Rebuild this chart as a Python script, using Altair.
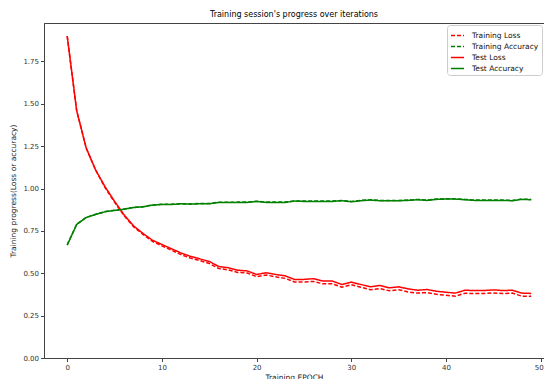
import altair as alt
import pandas as pd

epochs = list(range(50))

test_loss = [1.90, 1.46, 1.24, 1.11, 1.01, 0.925, 0.845, 0.78, 0.735, 0.695,
             0.67, 0.645, 0.62, 0.60, 0.585, 0.57, 0.54, 0.533, 0.518, 0.514,
             0.493, 0.503, 0.493, 0.485, 0.464, 0.464, 0.468, 0.454, 0.454, 0.434,
             0.448, 0.434, 0.42, 0.428, 0.414, 0.42, 0.408, 0.40, 0.404, 0.394,
             0.388, 0.383, 0.40, 0.398, 0.398, 0.402, 0.398, 0.40, 0.383, 0.381]

train_loss = [1.90, 1.46, 1.24, 1.11, 1.005, 0.92, 0.84, 0.775, 0.73, 0.688,
              0.662, 0.637, 0.61, 0.59, 0.575, 0.558, 0.528, 0.52, 0.505, 0.502,
              0.48, 0.49, 0.479, 0.47, 0.449, 0.449, 0.452, 0.438, 0.438, 0.418,
              0.432, 0.418, 0.403, 0.41, 0.397, 0.403, 0.39, 0.383, 0.386, 0.376,
              0.37, 0.365, 0.382, 0.38, 0.38, 0.384, 0.38, 0.383, 0.365, 0.364]

test_acc = [0.666, 0.788, 0.829, 0.847, 0.863, 0.871, 0.878, 0.888, 0.892, 0.902,
            0.906, 0.906, 0.910, 0.908, 0.910, 0.910, 0.918, 0.918, 0.918, 0.918,
            0.924, 0.918, 0.918, 0.918, 0.926, 0.924, 0.924, 0.924, 0.924, 0.928,
            0.922, 0.928, 0.932, 0.928, 0.928, 0.928, 0.930, 0.934, 0.930, 0.936,
            0.938, 0.938, 0.934, 0.930, 0.930, 0.930, 0.930, 0.928, 0.936, 0.934]

train_acc = [0.668, 0.789, 0.830, 0.848, 0.864, 0.872, 0.879, 0.889, 0.893, 0.903,
             0.907, 0.907, 0.911, 0.909, 0.912, 0.912, 0.919, 0.919, 0.920, 0.920,
             0.925, 0.920, 0.920, 0.920, 0.927, 0.926, 0.926, 0.926, 0.926, 0.930,
             0.924, 0.930, 0.934, 0.930, 0.930, 0.930, 0.932, 0.936, 0.932, 0.938,
             0.940, 0.940, 0.936, 0.932, 0.932, 0.932, 0.932, 0.930, 0.938, 0.936]

series_names = ["Training Loss", "Training Accuracy", "Test Loss", "Test Accuracy"]
series_colors = ["#ff0000", "#008000", "#ff0000", "#008000"]
series_dashes = [[4, 2], [4, 2], [1, 0], [1, 0]]
x_ticks = [0, 10, 20, 30, 40, 50]
y_ticks = [0.0, 0.25, 0.5, 0.75, 1.0, 1.25, 1.5, 1.75]

rows = []
for name, vals in zip(series_names, [train_loss, train_acc, test_loss, test_acc]):
    for e, v in zip(epochs, vals):
        rows.append({"epoch": e, "value": v, "series": name})
df = pd.DataFrame(rows)

FONT = "DejaVu Sans"

legend_kw = dict(
    title=None, orient="top-right", offset=2,
    fillColor="white", strokeColor="#cccccc", cornerRadius=3, padding=3,
    labelFont=FONT, labelFontSize=7.5, labelColor="#111111",
    symbolType="stroke", symbolSize=169, symbolStrokeWidth=1.5,
    rowPadding=-2, labelOffset=7, labelLimit=200,
)

base = alt.Chart(df).mark_line(strokeWidth=1.5).encode(
    x=alt.X("epoch:Q",
            scale=alt.Scale(domain=[-2.45, 50.35], nice=False, zero=False),
            axis=alt.Axis(values=x_ticks, title="Training EPOCH", format="d",
                          labelOffset={"condition": {"test": "datum.value === 50", "value": -2},
                                       "value": 0})),
    y=alt.Y("value:Q",
            scale=alt.Scale(domain=[0, 1.977], nice=False),
            axis=alt.Axis(values=y_ticks, format=".2f",
                          title="Training progress(Loss or accuracy)")),
    color=alt.Color("series:N",
                    scale=alt.Scale(domain=series_names, range=series_colors),
                    legend=alt.Legend(**legend_kw)),
    strokeDash=alt.StrokeDash("series:N",
                              scale=alt.Scale(domain=series_names, range=series_dashes),
                              legend=alt.Legend(**legend_kw)),
)

layers = [base.transform_filter(alt.datum.series == n) for n in series_names]

chart = alt.layer(*layers).properties(
    width=500, height=335,
    title=alt.TitleParams("Training session's progress over iterations",
                          font=FONT, fontSize=8, fontWeight="normal",
                          color="black", offset=4, anchor="middle"),
    autosize=alt.AutoSizeParams(type="none"),
    padding={"left": 36, "top": 15, "right": 0, "bottom": 21},
).configure_view(
    stroke="#444444", strokeWidth=1
).configure_axis(
    grid=False, domainColor="#444444", tickColor="#444444", tickSize=3.5,
    labelFont=FONT, labelFontSize=7, labelColor="#333333",
    titleFont=FONT, titleFontSize=7.5, titleFontWeight="normal", titleColor="#222222",
    labelPadding=2,
).configure_axisY(
    titlePadding=5
).configure_axisX(
    titlePadding=3
)

chart.save("out.html", embed_options={"renderer": "svg", "actions": False})
